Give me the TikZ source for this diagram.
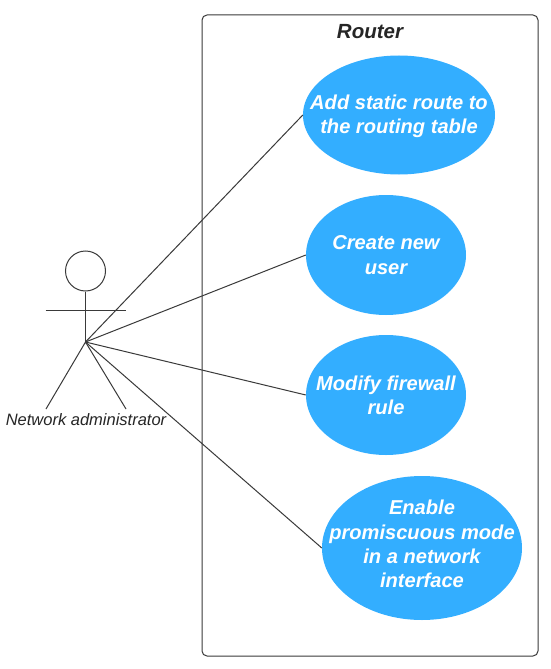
\documentclass[tikz,border=0pt]{standalone}
\usepackage{fontspec}
\setmainfont{Liberation Sans}
\usetikzlibrary{shapes.geometric}
\definecolor{ucblue}{HTML}{33AEFF}
\definecolor{ucline}{HTML}{3A3A3A}
\tikzset{
  usecase/.style={ellipse,fill=ucblue,inner sep=0pt},
  uctext/.style={align=center,text=white,inner sep=0pt,
    font=\fontsize{20.1}{24.3}\selectfont\bfseries\itshape},
  conn/.style={draw=ucline,line width=1pt},
  actorline/.style={draw=ucline,line width=1pt}
}
\begin{document}
\begin{tikzpicture}[x=1pt,y=-1pt]
\useasboundingbox (0,0) rectangle (550,669);
\fill[white] (0,0) rectangle (550,669);
\draw[ucline,line width=1pt,rounded corners=5pt] (202,15) rectangle (538,656);
\node[font=\fontsize{20.5}{25}\selectfont\bfseries\itshape,text=black!85] (title) at (370,32) {Router};
\node[usecase,minimum width=192pt,minimum height=119pt] (uc1) at (399,115) {};
\node[uctext] (t1) at (399,116) {Add static route to\\the routing table};
\node[usecase,minimum width=160pt,minimum height=120pt] (uc2) at (386,255) {};
\node[uctext] (t2) at (uc2.center) {Create new\\user};
\node[usecase,minimum width=160pt,minimum height=120pt] (uc3) at (386,395) {};
\node[uctext] (t3) at (uc3.center) {Modify firewall\\rule};
\node[usecase,minimum width=200pt,minimum height=144pt] (uc4) at (422,548) {};
\node[uctext] (t4) at (422,544) {Enable\\promiscuous mode\\in a network\\interface};
\node[circle,draw=ucline,line width=1pt,minimum size=40pt,inner sep=0pt] (head) at (85.5,271) {};
\coordinate (hub) at (85.5,342);
\coordinate (armL) at (45.5,310.5);
\coordinate (armR) at (126,310.5);
\coordinate (legL) at (46,409);
\coordinate (legR) at (126,409);
\draw[actorline] (head.south) -- (hub);
\draw[actorline] (armL) -- (armR);
\draw[actorline] (legL) -- (hub) -- (legR);
\node[font=\fontsize{16.5}{20}\selectfont\itshape,text=black!85] (actor) at (86,420) {Network administrator};
\draw[conn] (hub) -- (uc1.west);
\draw[conn] (hub) -- (uc2.west);
\draw[conn] (hub) -- (uc3.west);
\draw[conn] (hub) -- (uc4.west);
\end{tikzpicture}
\end{document}
